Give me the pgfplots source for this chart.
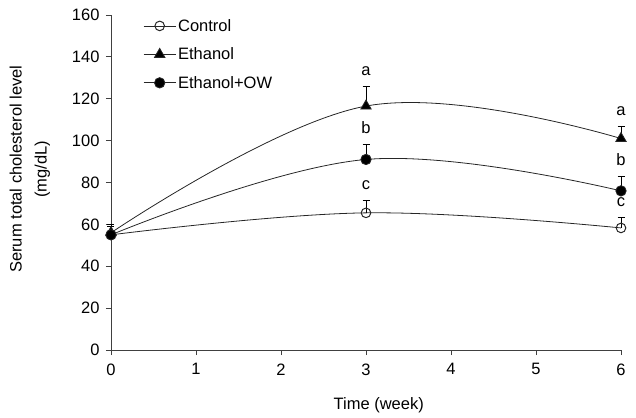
\documentclass[border=0pt]{standalone}
\usepackage{pgfplots}
\pgfplotsset{compat=1.18}
\usepackage{fontspec}
\setmainfont{Liberation Sans}
\pgfplotstableread{
x y e
0 55 4
3 65.5 6
6 58.3 4.8
}\control
\pgfplotstableread{
x y e
0 56 4
3 116.5 9.2
6 101 5.7
}\ethanol
\pgfplotstableread{
x y e
0 55 4
3 91 7
6 76 6.8
}\ow
\pgfplotstableread{
x y label
3 125.7 a
6 106.7 a
3 98 b
6 82.8 b
3 71.5 c
6 63.1 c
}\letters
\newcommand{\fs}{\fontsize{16.5}{19}\selectfont}
\begin{document}
\begin{tikzpicture}
\begin{axis}[
  name=ax,
  scale only axis, width=510pt, height=335pt,
  xmin=0, xmax=6, ymin=0, ymax=160,
  axis lines=left, axis line style={-, black!75, line width=0.9pt},
  xtick={0,...,6}, ytick={0,20,...,160},
  tick align=outside, major tick length=5pt,
  tick style={black!75, line width=0.9pt},
  font=\fs,
  /pgf/number format/assume math mode=true,
  xticklabel style={yshift=-5pt},
  yticklabel style={xshift=-3pt},
  xlabel={Time (week)},
  xlabel style={at={(axis description cs:0.525,-0.164)}, anchor=center},
  ylabel={Serum total cholesterol level\\[6pt](mg/dL)},
  ylabel style={align=center, at={(axis description cs:-0.159,0.54)}, anchor=center},
  legend style={at={(0.059,1.0)}, anchor=north west, draw=none, fill=none,
    row sep=11pt, font=\fs, inner sep=2pt},
  legend image code/.code={\draw[mark repeat=2,mark phase=2] plot coordinates {(0pt,0pt) (16pt,0pt) (32pt,0pt)};},
  legend cell align=left,
  clip=false,
]
\addplot[black!85, line width=0.8pt, smooth, tension=0.65, mark=o, mark size=4.8pt,
  mark options={fill=white, line width=1pt},
  error bars/.cd, y dir=plus, y explicit, error bar style={line width=0.9pt, black}, error mark options={rotate=90, mark size=3.5pt, line width=0.9pt}]
  table[x=x, y=y, y error=e] {\control};
\addlegendentry{Control}
\addplot[black!85, line width=0.8pt, smooth, tension=0.65, mark=triangle*, mark size=6pt,
  mark options={fill=black},
  error bars/.cd, y dir=plus, y explicit, error bar style={line width=0.9pt, black}, error mark options={rotate=90, mark size=3.5pt, line width=0.9pt}]
  table[x=x, y=y, y error=e] {\ethanol};
\addlegendentry{Ethanol}
\addplot[black!85, line width=0.8pt, smooth, tension=0.65, mark=*, mark size=5.2pt,
  mark options={fill=black},
  error bars/.cd, y dir=plus, y explicit, error bar style={line width=0.9pt, black}, error mark options={rotate=90, mark size=3.5pt, line width=0.9pt}]
  table[x=x, y=y, y error=e] {\ow};
\addlegendentry{Ethanol+OW}
\addplot[draw=none, mark=none, nodes near coords, point meta=explicit symbolic,
  nodes near coords style={anchor=base, yshift=11pt, font=\fs}, forget plot]
  table[x=x, y=y, meta=label] {\letters};
\end{axis}
\pgfresetboundingbox
\path[use as bounding box] ([xshift=-111pt,yshift=-67pt]ax.south west) rectangle ([xshift=15pt,yshift=15pt]ax.north east);
\end{tikzpicture}
\end{document}
